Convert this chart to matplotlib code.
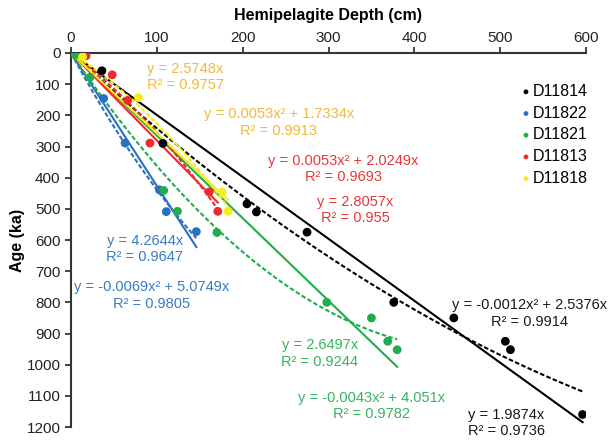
import numpy as np
import matplotlib.pyplot as plt

plt.rcParams['font.family'] = ['Liberation Sans', 'DejaVu Sans']

# Cores, in legend order
cores = ["D11814", "D11822", "D11821", "D11813", "D11818"]
colors = ["#000000", "#2a70c0", "#1fae4b", "#ee2a2a", "#f7ec1c"]
text_colors = ["#1a1a1a", "#3a7bc4", "#36b55a", "#e8373a", "#f4b83c"]

# depth (cm) / age (ka) of each dated level
depth = {
    "D11814": [36, 107, 205, 216, 275, 376, 446, 506, 512, 596],
    "D11822": [38, 63, 103, 111, 146],
    "D11821": [5, 22, 108, 124, 170, 298, 350, 369, 380],
    "D11813": [17.5, 48, 66, 92, 161, 171],
    "D11818": [13.5, 78.5, 176, 183],
}
age = {
    "D11814": [57, 290, 484, 510, 575, 800, 850, 925, 952, 1160],
    "D11822": [146, 289, 439, 509, 573],
    "D11821": [6, 78, 441, 508, 576, 800, 850, 925, 952],
    "D11813": [9, 70, 152, 289, 446, 508],
    "D11818": [12, 143, 446, 508],
}

# trendlines through the origin: y = a*x  and  y = b*x^2 + c*x
lin_a = [1.9874, 4.2644, 2.6497, 2.8057, 2.5748]
poly_b = [-0.0012, -0.0069, -0.0043, 0.0053, 0.0053]
poly_c = [2.5376, 5.0749, 4.051, 2.0249, 1.7334]
lin_r2 = ["0.9736", "0.9647", "0.9244", "0.955", "0.9757"]
poly_r2 = ["0.9914", "0.9805", "0.9782", "0.9693", "0.9913"]

# label centres (data coords) for linear and polynomial equations
lin_pos = [(507, 1186), (86, 630), (290, 964), (331, 504), (88.5, 78)]
lin_ha = ["center", "center", "center", "center", "left"]
poly_pos = [(534, 836), (94, 778), (350, 1133), (317, 371), (242, 223)]

fig = plt.figure(figsize=(6.09, 4.41), dpi=100)
ax = fig.add_axes([71 / 609, 1 - 427 / 441, 515 / 609, 374 / 441])

for i, name in enumerate(cores):
    xs = np.linspace(0, max(depth[name]), 100)
    ax.plot(xs, lin_a[i] * xs, color=colors[i], lw=1.5, zorder=2)
    ax.plot(xs, poly_b[i] * xs ** 2 + poly_c[i] * xs, color=colors[i], lw=1.5,
            ls=(0, (2.2, 1.1)), zorder=2)

for i, name in enumerate(cores):
    ax.scatter(depth[name], age[name], s=40, color=colors[i], zorder=3,
               edgecolors="none", label=name)

for i, name in enumerate(cores):
    x, y = lin_pos[i]
    ax.text(x, y, "y = %sx\nR² = %s" % (lin_a[i], lin_r2[i]), color=text_colors[i],
            fontsize=10.5, ha=lin_ha[i], va="center", linespacing=1.2,
            multialignment="left" if lin_ha[i] == "left" else "center")
    x, y = poly_pos[i]
    ax.text(x, y, "y = %sx² + %sx\nR² = %s" % (poly_b[i], poly_c[i], poly_r2[i]),
            color=text_colors[i], fontsize=10.5, ha="center", va="center",
            linespacing=1.2, multialignment="center")

ax.set_xlim(0, 600)
ax.set_ylim(1200, 0)
ax.set_xticks(np.arange(0, 601, 100))
ax.set_yticks(np.arange(0, 1201, 100))
ax.xaxis.tick_top()
ax.xaxis.set_label_position("top")
ax.tick_params(axis="both", labelsize=11, length=4, width=1.2, colors="#222222")
ax.tick_params(axis="x", pad=2)
for s in ["right", "bottom"]:
    ax.spines[s].set_visible(False)
for s in ["top", "left"]:
    ax.spines[s].set_linewidth(1.5)
    ax.spines[s].set_color("#333333")

ax.set_xlabel("Hemipelagite Depth (cm)", fontsize=11.5, fontweight="bold", labelpad=8)
ax.set_ylabel("Age (ka)", fontsize=11.5, fontweight="bold", labelpad=1)

ax.legend(loc="upper left", bbox_to_anchor=(502 / 609, 1 - 76 / 441),
          bbox_transform=fig.transFigure, frameon=False, fontsize=11.5,
          handletextpad=-0.6, labelspacing=0.42, markerscale=0.55, borderpad=0)

fig.savefig("out.png", dpi=100)
